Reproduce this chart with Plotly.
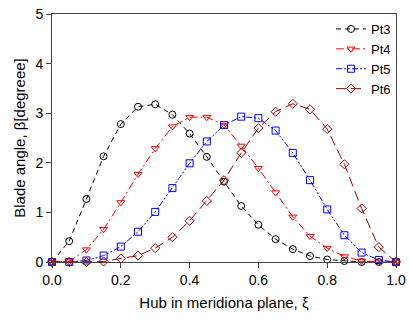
import plotly.graph_objects as go

xi = [round(0.05 * i, 2) for i in range(21)]

pt3 = [0, 0.42, 1.27, 2.13, 2.78, 3.13, 3.18, 2.97, 2.59, 2.12, 1.62, 1.13, 0.75, 0.46, 0.26, 0.12, 0.05, 0.02, 0, 0, 0]
pt4 = [0, 0.01, 0.25, 0.66, 1.20, 1.77, 2.29, 2.73, 2.92, 2.92, 2.76, 2.34, 1.89, 1.40, 0.91, 0.52, 0.28, 0.11, 0.02, 0, 0]
pt5 = [0, 0, 0.03, 0.13, 0.31, 0.61, 1.01, 1.49, 1.99, 2.43, 2.76, 2.93, 2.90, 2.65, 2.20, 1.65, 1.06, 0.54, 0.19, 0.04, 0]
pt6 = [0, 0, 0, 0.01, 0.07, 0.13, 0.28, 0.50, 0.83, 1.23, 1.65, 2.20, 2.70, 3.03, 3.19, 3.08, 2.68, 1.97, 1.08, 0.30, 0]

series = [
    ("Pt3", pt3, "black", "circle-open", "5px,4px"),
    ("Pt4", pt4, "#ff0000", "triangle-down-open", "8px,3px,2px,3px"),
    ("Pt5", pt5, "#0000ff", "square-open", "6px,2px,2px,2px,2px,2px"),
    ("Pt6", pt6, "#990000", "diamond-open", "10px,5px"),
]

fig = go.Figure()
for name, ys, col, sym, dash in series:
    fig.add_trace(go.Scatter(
        x=xi, y=ys, name=name, mode="lines+markers",
        line=dict(color=col, width=1, dash=dash),
        marker=dict(symbol=sym, size=7, color=col, line=dict(width=1, color=col)),
        cliponaxis=False,
    ))

axis_common = dict(
    showline=True, linecolor="#444444", linewidth=1, mirror=True,
    ticks="outside", ticklen=5, tickcolor="#444444",
    showgrid=False, zeroline=False, automargin=False,
    tickfont=dict(family="Liberation Sans, Arial", size=14, color="black"),
)

fig.update_layout(
    width=410, height=322,
    margin=dict(l=52, r=14, t=14, b=60, autoexpand=False),
    plot_bgcolor="white", paper_bgcolor="white",
    xaxis=dict(range=[0, 1], tickvals=[0, 0.2, 0.4, 0.6, 0.8, 1.0],
               ticktext=["0.0", "0.2", "0.4", "0.6", "0.8", "1.0"],
               title=dict(text="Hub in meridiona plane, ξ", standoff=10,
                          font=dict(family="Liberation Sans, Arial", size=15, color="black")),
               **axis_common),
    yaxis=dict(range=[0, 5], tickvals=[0, 1, 2, 3, 4, 5],
               title=dict(text="Blade angle, β[degreee]", standoff=6,
                          font=dict(family="Liberation Sans, Arial", size=15, color="black")),
               **axis_common),
    legend=dict(x=1, y=1, xanchor="right", yanchor="top",
                bgcolor="rgba(0,0,0,0)", tracegroupgap=0,
                font=dict(family="Liberation Sans, Arial", size=13, color="black")),
    showlegend=True,
)

fig.write_html("out.html")
